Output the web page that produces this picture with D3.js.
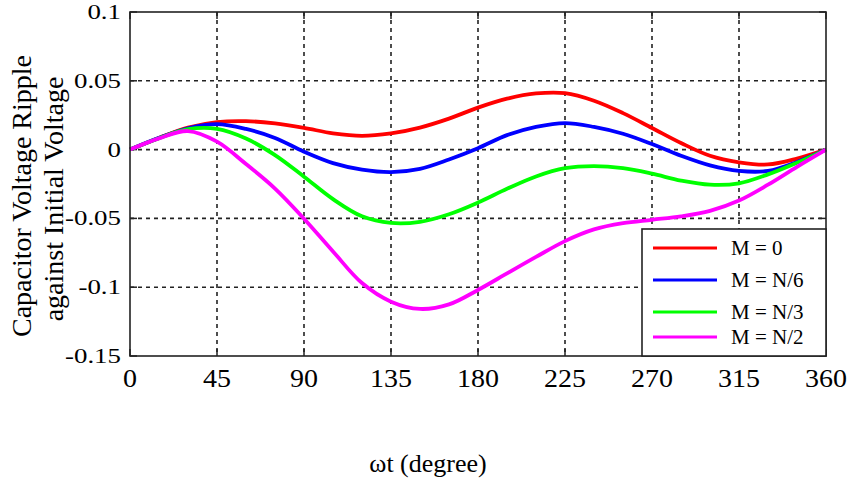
<!DOCTYPE html>
<html>
<head>
<meta charset="utf-8">
<script src="https://cdn.jsdelivr.net/npm/d3@7"></script>
<style>
  body { margin: 0; background: #fff; }
  text { font-family: "Liberation Serif", "Times New Roman", serif; fill: #000; }
</style>
</head>
<body>
<svg width="852" height="484"></svg>
<script>
// angle samples (degrees)
var degrees = [0, 15, 30, 45, 60, 75, 90, 105, 120, 135, 150, 165, 180, 195, 210, 225, 240, 255, 270, 285, 300, 315, 330, 345, 360];

// ripple values
var rippleM0  = [0, 0.0085, 0.016, 0.020, 0.0207, 0.019, 0.0158, 0.0118, 0.010, 0.0118, 0.016, 0.0225, 0.0305, 0.037, 0.0408, 0.041, 0.0355, 0.0265, 0.0157, 0.0048, -0.0045, -0.0092, -0.0108, -0.0065, 0];
var rippleM6  = [0, 0.0085, 0.0155, 0.0185, 0.015, 0.0085, -0.0015, -0.0098, -0.0145, -0.0163, -0.014, -0.0072, 0.001, 0.0105, 0.0165, 0.0193, 0.0165, 0.0115, 0.004, -0.0045, -0.0115, -0.0155, -0.0155, -0.009, 0];
var rippleM3  = [0, 0.0083, 0.0148, 0.015, 0.008, -0.004, -0.0197, -0.036, -0.0485, -0.0533, -0.0525, -0.047, -0.0385, -0.0285, -0.0195, -0.0135, -0.012, -0.0135, -0.0175, -0.0225, -0.0255, -0.0245, -0.018, -0.0095, 0];
var rippleM2  = [0, 0.0082, 0.0135, 0.0058, -0.0105, -0.0283, -0.0502, -0.074, -0.097, -0.1105, -0.1158, -0.1125, -0.102, -0.090, -0.078, -0.0665, -0.058, -0.0535, -0.051, -0.0485, -0.0445, -0.037, -0.0255, -0.0125, 0];

var seriesNames = ["M = 0", "M = N/6", "M = N/3", "M = N/2"];
var seriesColors = ["#ff0000", "#0000ff", "#00ff00", "#ff00ff"];

var xTicks = [0, 45, 90, 135, 180, 225, 270, 315, 360];
var yTicks = [-0.15, -0.1, -0.05, 0, 0.05, 0.1];
var yTickLabels = ["-0.15", "-0.1", "-0.05", "0", "0.05", "0.1"];

var series = [rippleM0, rippleM6, rippleM3, rippleM2].map(function(vals, i) {
  return {
    name: seriesNames[i],
    color: seriesColors[i],
    points: vals.map(function(v, j) { return {x: degrees[j], y: v}; })
  };
});

var svg = d3.select("svg");
var plotL = 130, plotR = 826, plotT = 12, plotB = 356;

var x = d3.scaleLinear().domain([0, 360]).range([plotL, plotR]);
var y = d3.scaleLinear().domain([-0.15, 0.1]).range([plotB, plotT]);

// dashed grid
var grid = svg.append("g").attr("class", "grid")
  .attr("stroke", "#222").attr("stroke-width", 1.6).attr("stroke-dasharray", "4,4");
grid.selectAll("line.v").data(xTicks.slice(1, -1)).enter().append("line")
  .attr("x1", function(d) { return x(d); }).attr("x2", function(d) { return x(d); })
  .attr("y1", plotT).attr("y2", plotB);
grid.selectAll("line.h").data(yTicks.slice(1, -1)).enter().append("line")
  .attr("x1", plotL).attr("x2", plotR)
  .attr("y1", function(d) { return y(d); }).attr("y2", function(d) { return y(d); });

// inside ticks on all four sides
var tickLen = 7;
var ticks = svg.append("g").attr("stroke", "#222").attr("stroke-width", 1.5);
xTicks.forEach(function(d) {
  ticks.append("line").attr("x1", x(d)).attr("x2", x(d)).attr("y1", plotB).attr("y2", plotB - tickLen);
  ticks.append("line").attr("x1", x(d)).attr("x2", x(d)).attr("y1", plotT).attr("y2", plotT + tickLen);
});
yTicks.forEach(function(d) {
  ticks.append("line").attr("x1", plotL).attr("x2", plotL + tickLen).attr("y1", y(d)).attr("y2", y(d));
  ticks.append("line").attr("x1", plotR).attr("x2", plotR - tickLen).attr("y1", y(d)).attr("y2", y(d));
});

// curves
var line = d3.line()
  .x(function(d) { return x(d.x); })
  .y(function(d) { return y(d.y); })
  .curve(d3.curveCatmullRom.alpha(0.5));

svg.append("g").selectAll("path").data(series).enter().append("path")
  .attr("d", function(d) { return line(d.points); })
  .attr("fill", "none")
  .attr("stroke", function(d) { return d.color; })
  .attr("stroke-width", 3.8)
  .attr("stroke-linejoin", "round");

// frame
svg.append("rect")
  .attr("x", plotL).attr("y", plotT)
  .attr("width", plotR - plotL).attr("height", plotB - plotT)
  .attr("fill", "none").attr("stroke", "#222").attr("stroke-width", 1.6);

// y tick labels (figure is stretched horizontally)
svg.append("g").selectAll("text").data(yTicks).enter().append("text")
  .attr("transform", function(d) { return "translate(121," + (y(d) + 7) + ") scale(1.28,1)"; })
  .attr("text-anchor", "end")
  .attr("font-size", 21)
  .text(function(d, i) { return yTickLabels[i]; });

// x tick labels
svg.append("g").selectAll("text").data(xTicks).enter().append("text")
  .attr("transform", function(d) { return "translate(" + x(d) + ",387) scale(1.12,1)"; })
  .attr("text-anchor", "middle")
  .attr("font-size", 25)
  .text(function(d) { return d; });

// axis titles
svg.append("text")
  .attr("transform", "translate(31,196) rotate(-90)")
  .attr("text-anchor", "middle")
  .attr("font-size", 28)
  .text("Capacitor Voltage Ripple");
svg.append("text")
  .attr("transform", "translate(63,199) rotate(-90)")
  .attr("text-anchor", "middle")
  .attr("font-size", 28)
  .text("against Initial Voltage");

svg.append("text")
  .attr("x", 428).attr("y", 472)
  .attr("text-anchor", "middle")
  .attr("font-size", 26)
  .text("ωt (degree)");

// legend
var legend = svg.append("g");
legend.append("rect")
  .attr("x", 642).attr("y", 229)
  .attr("width", plotR - 642).attr("height", plotB - 229)
  .attr("fill", "#fff").attr("stroke", "#222").attr("stroke-width", 1.6);
var rowY = [248, 280, 312, 337];
var rows = legend.selectAll("g.row").data(series).enter().append("g")
  .attr("transform", function(d, i) { return "translate(0," + rowY[i] + ")"; });
rows.append("line")
  .attr("x1", 653).attr("x2", 717).attr("y1", 0).attr("y2", 0)
  .attr("stroke", function(d) { return d.color; })
  .attr("stroke-width", 3);
rows.append("text")
  .attr("x", 731).attr("y", 7)
  .attr("font-size", 21)
  .text(function(d) { return d.name; });
</script>
</body>
</html>
